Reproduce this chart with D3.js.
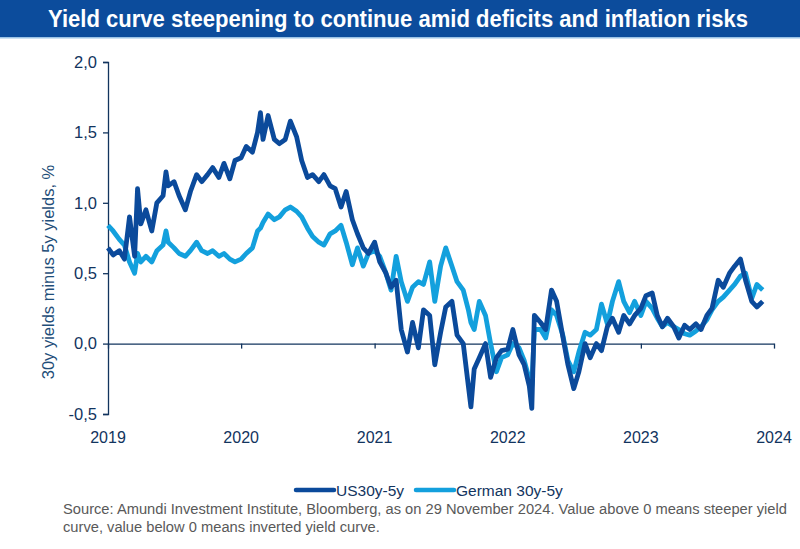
<!DOCTYPE html>
<html><head><meta charset="utf-8">
<script src="https://cdn.jsdelivr.net/npm/d3@7"></script>
<style>body{margin:0;background:#fff}svg{display:block}</style>
</head><body><svg id="c" width="800" height="549"></svg>
<script>
const titleText = "Yield curve steepening to continue amid deficits and inflation risks";
const yTicks = [-0.5, 0, 0.5, 1.0, 1.5, 2.0];
const xTickYears = ["2019","2020","2021","2022","2023","2024"];
const seriesNames = ["US30y-5y", "German 30y-5y"];
const dates = [
"2019-01-01","2019-01-15","2019-02-01","2019-02-15","2019-03-01","2019-03-15","2019-03-23","2019-04-01","2019-04-15","2019-05-01","2019-05-15","2019-06-01","2019-06-09","2019-06-15",
"2019-07-01","2019-07-15","2019-08-01","2019-08-15","2019-09-01","2019-09-15","2019-10-01","2019-10-15","2019-11-01","2019-11-15","2019-12-01","2019-12-15",
"2020-01-01","2020-01-15","2020-02-01","2020-02-15","2020-02-23","2020-03-01","2020-03-15","2020-04-01","2020-04-15","2020-05-01","2020-05-15","2020-06-01","2020-06-15",
"2020-07-01","2020-07-15","2020-08-01","2020-08-15","2020-09-01","2020-09-15","2020-10-01","2020-10-15","2020-11-01","2020-11-15","2020-12-01","2020-12-15",
"2021-01-01","2021-01-15","2021-02-01","2021-02-15","2021-03-01","2021-03-15","2021-04-01","2021-04-15","2021-05-01","2021-05-15","2021-06-01","2021-06-15",
"2021-07-01","2021-07-15","2021-08-01","2021-08-15","2021-09-01","2021-09-15","2021-09-22","2021-10-01","2021-10-15","2021-11-01","2021-11-15","2021-12-01","2021-12-15",
"2022-01-01","2022-01-15","2022-02-01","2022-02-15","2022-03-01","2022-03-08","2022-03-15","2022-04-01","2022-04-15","2022-05-01","2022-05-15","2022-06-01","2022-06-15",
"2022-07-01","2022-07-15","2022-08-01","2022-08-15","2022-09-01","2022-09-15","2022-10-01","2022-10-15","2022-11-01","2022-11-15","2022-12-01","2022-12-15",
"2023-01-01","2023-01-15","2023-02-01","2023-02-15","2023-03-01","2023-03-15","2023-04-01","2023-04-15","2023-05-01","2023-05-15","2023-06-01","2023-06-15",
"2023-07-01","2023-07-15","2023-08-01","2023-08-15","2023-09-01","2023-09-15","2023-10-01","2023-10-15","2023-11-01","2023-11-15","2023-12-01"
];
const us30y5y = [
0.68,0.63,0.66,0.60,0.90,0.62,1.10,0.85,0.95,0.80,1.00,1.05,1.22,1.12,
1.15,1.05,0.95,1.08,1.20,1.15,1.20,1.25,1.18,1.28,1.17,1.30,
1.32,1.40,1.36,1.50,1.64,1.45,1.62,1.45,1.42,1.45,1.58,1.47,1.30,
1.18,1.20,1.15,1.20,1.12,1.10,0.97,1.08,0.88,0.78,0.68,0.64,
0.72,0.58,0.50,0.40,0.45,0.10,-0.06,0.15,-0.03,0.24,0.20,-0.15,
0.08,0.26,0.30,0.06,0.00,-0.30,-0.45,-0.18,-0.10,0.00,-0.24,-0.10,-0.05,
-0.04,0.10,-0.08,-0.15,-0.30,-0.46,0.20,0.15,0.10,0.38,0.30,0.05,-0.15,
-0.32,-0.20,0.00,-0.10,0.00,-0.05,0.12,0.18,0.08,0.20,0.14,0.20,
0.25,0.34,0.36,0.20,0.12,0.18,0.12,0.04,0.13,0.10,0.14,0.10,
0.20,0.25,0.45,0.40,0.50,0.55,0.60,0.45,0.30,0.26,0.30
];
const de30y5y = [
0.84,0.80,0.74,0.70,0.58,0.50,0.64,0.58,0.62,0.58,0.66,0.70,0.80,0.72,
0.68,0.64,0.62,0.66,0.72,0.66,0.64,0.66,0.62,0.64,0.60,0.58,
0.60,0.64,0.68,0.80,0.82,0.86,0.92,0.88,0.90,0.95,0.97,0.94,0.90,
0.82,0.76,0.72,0.70,0.78,0.80,0.84,0.72,0.56,0.68,0.55,0.64,
0.66,0.62,0.50,0.38,0.62,0.44,0.30,0.40,0.44,0.42,0.58,0.30,
0.55,0.68,0.55,0.44,0.38,0.24,0.15,0.10,0.30,0.20,0.00,-0.20,-0.10,
-0.08,0.00,-0.03,-0.12,-0.25,-0.30,0.10,0.10,0.04,0.24,0.20,0.06,-0.12,
-0.20,-0.06,0.08,0.06,0.10,0.28,0.14,0.30,0.44,0.30,0.22,0.30,
0.20,0.30,0.25,0.18,0.12,0.15,0.12,0.10,0.07,0.06,0.09,0.12,
0.17,0.24,0.30,0.33,0.38,0.42,0.48,0.50,0.32,0.42,0.38
];
const sourceLines = [
"Source: Amundi Investment Institute, Bloomberg, as on 29 November 2024. Value above 0 means steeper yield",
"curve, value below 0 means inverted yield curve."
];

const svg = d3.select("#c");
const parse = d3.timeParse("%Y-%m-%d");
const navy = "#12345e";
const colUS = "#0b4a9b", colDE = "#13a0dd";
const ff = "Liberation Sans, Arial, sans-serif";

// title bar
svg.append("rect").attr("x",0).attr("y",0).attr("width",800).attr("height",37).attr("fill","#0c4c9c");
svg.append("rect").attr("x",0).attr("y",37).attr("width",800).attr("height",1.5).attr("fill","#9cc3e6");
svg.append("text").attr("x",398).attr("y",27).attr("text-anchor","middle")
  .attr("font-family",ff).attr("font-weight","bold").attr("font-size",23)
  .attr("fill","#fff").attr("textLength",700).attr("lengthAdjust","spacingAndGlyphs").text(titleText);

const x = d3.scaleTime().domain([parse("2019-01-01"), parse("2024-01-01")]).range([108, 774]);
const y = d3.scaleLinear().domain([-0.5, 2.0]).range([414, 62]);
const fmt = v => d3.format(".1f")(v).replace(".", ",").replace("−","-");

// y axis
const yAxis = svg.append("g").attr("transform","translate(108,0)")
  .call(d3.axisLeft(y).tickValues(yTicks).tickFormat(fmt).tickSize(5).tickPadding(6));
yAxis.select(".domain").attr("stroke",navy).attr("stroke-width",1.3);
yAxis.selectAll(".tick line").attr("stroke",navy).attr("stroke-width",1.3);
yAxis.selectAll("text").attr("font-family",ff).attr("font-size",16.5).attr("fill",navy);

// x axis at zero
const xAxis = svg.append("g").attr("transform",`translate(0,${y(0)})`)
  .call(d3.axisBottom(x).tickValues(xTickYears.map(s=>parse(s+"-01-01"))).tickFormat("").tickSize(5).tickSizeOuter(0));
xAxis.select(".domain").attr("stroke",navy).attr("stroke-width",1.3);
xAxis.selectAll(".tick line").attr("stroke",navy).attr("stroke-width",1.3);
svg.append("g").selectAll("text").data(xTickYears).join("text")
  .attr("x",d=>x(parse(d+"-01-01"))).attr("y",443).attr("text-anchor","middle")
  .attr("font-family",ff).attr("font-size",16).attr("fill",navy).text(d=>d);

// y title
svg.append("text").attr("transform","translate(54,272) rotate(-90)").attr("text-anchor","middle")
  .attr("font-family",ff).attr("font-size",16.5).attr("fill","#1f4e79")
  .text("30y yields minus 5y yields, %");

// lines
const pts = dates.map((d,i)=>({d:parse(d), us:us30y5y[i], de:de30y5y[i]}));
const lineUS = d3.line().x(p=>x(p.d)).y(p=>y(p.us));
const lineDE = d3.line().x(p=>x(p.d)).y(p=>y(p.de));
svg.append("path").datum(pts).attr("d",lineDE).attr("fill","none").attr("stroke",colDE).attr("stroke-width",4.8).attr("stroke-linejoin","round");
svg.append("path").datum(pts).attr("d",lineUS).attr("fill","none").attr("stroke",colUS).attr("stroke-width",4.8).attr("stroke-linejoin","round");

// legend
const leg = [{n:seriesNames[0],c:colUS,x:296},{n:seriesNames[1],c:colDE,x:416}];
const lg = svg.append("g");
leg.forEach(l=>{
  lg.append("line").attr("x1",l.x).attr("x2",l.x+38).attr("y1",490).attr("y2",490).attr("stroke",l.c).attr("stroke-width",4.5).attr("stroke-linecap","round");
  lg.append("text").attr("x",l.x+40).attr("y",495.5).attr("font-family",ff).attr("font-size",15.5).attr("fill",navy).text(l.n);
});

// source
svg.append("g").selectAll("text").data(sourceLines).join("text")
  .attr("x",63).attr("y",(d,i)=>513.5+i*18).attr("font-family",ff)
  .attr("font-size",14.7).attr("fill","#595959").text(d=>d);
</script></body></html>
